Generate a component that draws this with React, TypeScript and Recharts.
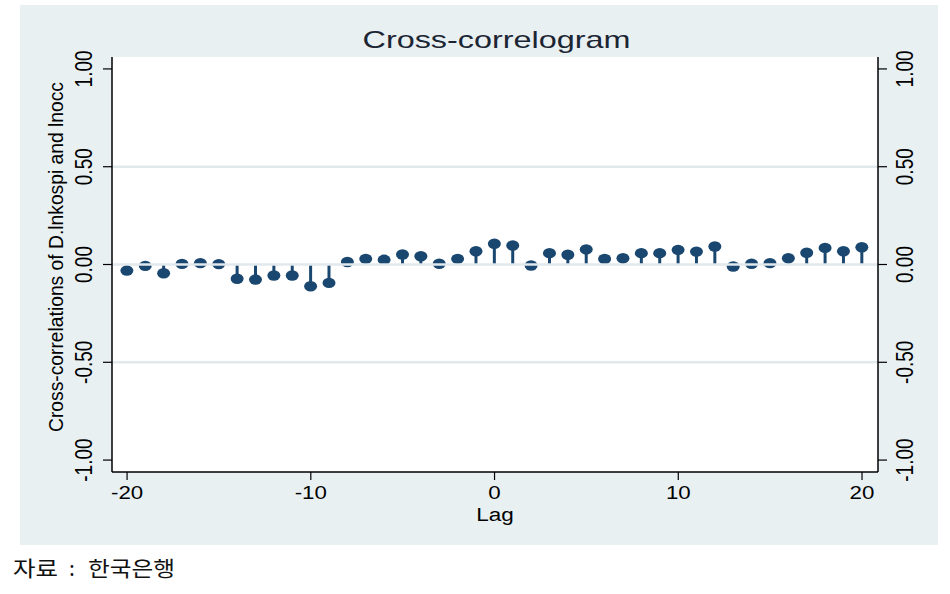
import React from 'react';
import { ComposedChart, Bar, XAxis, YAxis, CartesianGrid, ReferenceLine } from 'recharts';

// ---- data ----
const lags = [
  -20, -19, -18, -17, -16, -15, -14, -13, -12, -11, -10,
  -9, -8, -7, -6, -5, -4, -3, -2, -1, 0,
  1, 2, 3, 4, 5, 6, 7, 8, 9, 10,
  11, 12, 13, 14, 15, 16, 17, 18, 19, 20,
];
const crossCorr = [
  -0.031, -0.007, -0.045, 0.003, 0.007, 0.002, -0.073, -0.077, -0.056, -0.056, -0.111,
  -0.094, 0.013, 0.029, 0.024, 0.051, 0.042, 0.004, 0.029, 0.068, 0.106,
  0.097, -0.005, 0.058, 0.05, 0.077, 0.028, 0.032, 0.058, 0.058, 0.075,
  0.066, 0.092, -0.01, 0.004, 0.007, 0.032, 0.06, 0.085, 0.068, 0.088,
];
const xTicks = [-20, -10, 0, 10, 20];
const yTicks = [-1, -0.5, 0, 0.5, 1];
const yTickLabels = ['-1.00', '-0.50', '0.00', '0.50', '1.00'];
const gridValues = [-0.5, 0, 0.5];

const titleText = 'Cross-correlogram';
const xLabelText = 'Lag';
const yLabelText = 'Cross-correlations of D.lnkospi and lnocc';
const sourceParts = ['자료', ':', '한국은행'];

const data = lags.map((lag, i) => ({ lag, r: crossCorr[i] }));

const NAVY = '#1a476f';
const FONT = '"Liberation Sans", Arial, sans-serif';
const KFONT = '"Noto Sans CJK KR", "Noto Sans", sans-serif';

const Stem = (props: any) => {
  const { x, y, width, height, payload } = props;
  if (x == null || y == null) return null;
  const cx = x + width / 2;
  const a = y;
  const b = y + (height || 0);
  const top = Math.min(a, b);
  const bottom = Math.max(a, b);
  const v = payload.r;
  const vy = v >= 0 ? top : bottom;
  const by = v >= 0 ? bottom : top;
  return (
    <g>
      <line x1={cx} x2={cx} y1={by} y2={vy} stroke={NAVY} strokeWidth={3} />
      <ellipse cx={cx} cy={vy} rx={6.5} ry={5.2} fill={NAVY} />
    </g>
  );
};

const XTick = (props: any) => {
  const { x, y, payload } = props;
  return (
    <g transform={`translate(${x},${y + 19}) scale(1.24,1)`}>
      <text x={0} y={0} textAnchor="middle" fontSize={18} fontFamily={FONT} fill="#000">
        {payload.value}
      </text>
    </g>
  );
};

const labelFor = (v: number) => {
  const i = yTicks.indexOf(v);
  return i >= 0 ? yTickLabels[i] : String(v);
};

const LeftYTick = (props: any) => {
  const { x, y, payload } = props;
  return (
    <g transform={`translate(${x - 11},${y}) scale(1.3,1) rotate(-90)`}>
      <text x={0} y={0} textAnchor="middle" fontSize={19} fontFamily={FONT} fill="#000">
        {labelFor(payload.value)}
      </text>
    </g>
  );
};

const RightYTick = (props: any) => {
  const { x, y, payload } = props;
  return (
    <g transform={`translate(${x + 26},${y}) scale(1.3,1) rotate(-90)`}>
      <text x={0} y={0} textAnchor="middle" fontSize={19} fontFamily={FONT} fill="#000">
        {labelFor(payload.value)}
      </text>
    </g>
  );
};

export default function App() {
  return (
    <div style={{ position: 'absolute', left: 0, top: 0, width: 950, height: 594, background: '#ffffff', overflow: 'hidden' }}>
      <div style={{ position: 'absolute', left: 20, top: 5, width: 918, height: 540, background: '#e8f0f2' }} />
      <div style={{ position: 'absolute', left: 0, top: 0 }}>
        <ComposedChart
          width={950}
          height={594}
          data={data}
          margin={{ top: 57, right: 12, bottom: 62, left: 20 }}
        >
          <CartesianGrid yAxisId="left" horizontal={false} vertical={false} fill="#ffffff" fillOpacity={1} />
          <XAxis
            type="number"
            dataKey="lag"
            domain={[-20.82, 20.87]}
            allowDataOverflow
            ticks={xTicks}
            height={60}
            tickSize={8}
            tickMargin={0}
            axisLine={{ stroke: '#000', strokeWidth: 1.5 }}
            tickLine={{ stroke: '#000', strokeWidth: 1.2 }}
            tick={<XTick />}
            interval={0}
          />
          <YAxis
            yAxisId="left"
            orientation="left"
            type="number"
            domain={[-1.061, 1.061]}
            allowDataOverflow
            ticks={yTicks}
            width={92}
            tickSize={9}
            tickMargin={0}
            axisLine={{ stroke: '#000', strokeWidth: 1.5 }}
            tickLine={{ stroke: '#000', strokeWidth: 1.2 }}
            tick={<LeftYTick />}
            interval={0}
          />
          <YAxis
            yAxisId="right"
            orientation="right"
            type="number"
            domain={[-1.061, 1.061]}
            allowDataOverflow
            ticks={yTicks}
            width={60}
            tickSize={9}
            tickMargin={0}
            axisLine={{ stroke: '#000', strokeWidth: 1.5 }}
            tickLine={{ stroke: '#000', strokeWidth: 1.2 }}
            tick={<RightYTick />}
            interval={0}
          />
          {gridValues.map((g) => (
            <ReferenceLine key={g} yAxisId="left" y={g} stroke="#e1e9ec" strokeWidth={2.5} />
          ))}
          <Bar
            yAxisId="left"
            dataKey="r"
            barSize={6}
            shape={<Stem />}
            isAnimationActive={false}
          />
        </ComposedChart>
      </div>
      <svg width={950} height={594} style={{ position: 'absolute', left: 0, top: 0, pointerEvents: 'none' }}>
        <text
          x={496.5}
          y={48}
          textAnchor="middle"
          fontSize={24}
          fontFamily={FONT}
          fill="#1c2533"
          textLength={268}
          lengthAdjust="spacingAndGlyphs"
        >
          {titleText}
        </text>
        <g transform="translate(495,521) scale(1.25,1)">
          <text x={0} y={0} textAnchor="middle" fontSize={18} fontFamily={FONT} fill="#000">
            {xLabelText}
          </text>
        </g>
        <g transform="translate(63,257) scale(1.05,1) rotate(-90)">
          <text
            x={0}
            y={0}
            textAnchor="middle"
            fontSize={20}
            fontFamily={FONT}
            fill="#000"
            textLength={350}
            lengthAdjust="spacingAndGlyphs"
          >
            {yLabelText}
          </text>
        </g>
        <text x={13} y={576} fontSize={21} fontFamily={KFONT} fill="#111" textLength={45} lengthAdjust="spacingAndGlyphs">
          {sourceParts[0]}
        </text>
        <text x={72} y={576} textAnchor="middle" fontSize={21} fontFamily={KFONT} fill="#111">
          {sourceParts[1]}
        </text>
        <text x={88} y={576} fontSize={21} fontFamily={KFONT} fill="#111" textLength={87} lengthAdjust="spacingAndGlyphs">
          {sourceParts[2]}
        </text>
      </svg>
    </div>
  );
}
